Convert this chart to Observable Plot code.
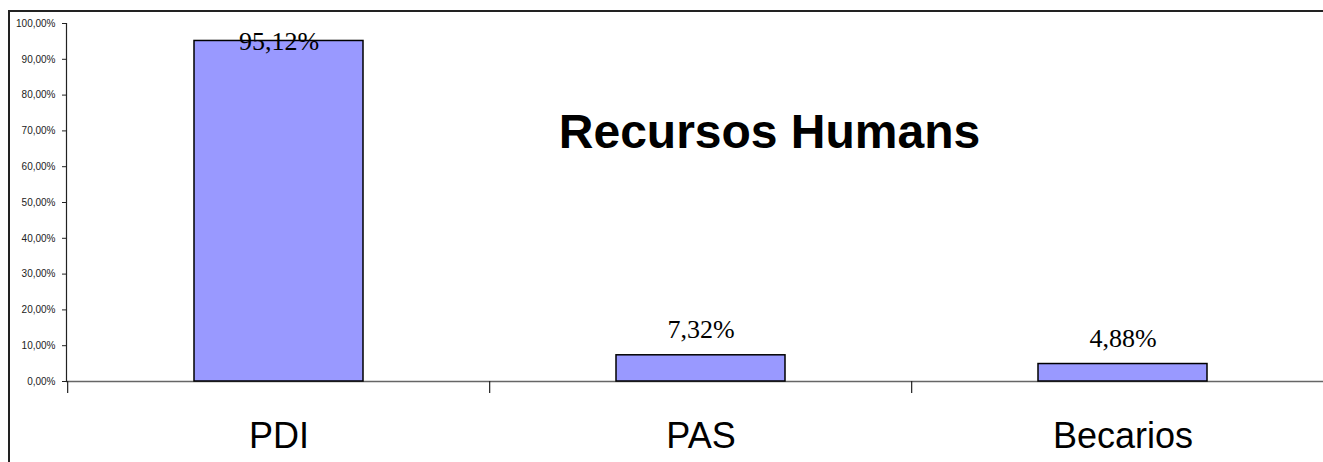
<!DOCTYPE html>
<html>
<head>
<meta charset="utf-8">
<script src="https://cdn.jsdelivr.net/npm/d3@7"></script>
<script src="https://cdn.jsdelivr.net/npm/@observablehq/plot@0.6"></script>
<style>
  html, body { margin: 0; padding: 0; background: #fff; }
  #wrap { position: relative; width: 1323px; height: 462px; overflow: hidden; }
  #border { position: absolute; left: 8px; top: 10px; right: -5px; bottom: -5px;
            border-top: 2px solid #222; border-left: 2px solid #222; pointer-events: none; }
  svg { display: block; }
</style>
</head>
<body>
<div id="wrap"><div id="border"></div></div>
<script>
const title = "Recursos Humans";
const categories = ["PDI", "PAS", "Becarios"];
const values = [0.9512, 0.0732, 0.0488];
const yTicks = [0, 0.1, 0.2, 0.3, 0.4, 0.5, 0.6, 0.7, 0.8, 0.9, 1.0];

const data = categories.map((c, i) => ({category: c, value: values[i]}));
const pct = (v, digits) => (v * 100).toFixed(digits).replace(".", ",") + "%";

const xOpts = {domain: categories, range: [66, 1334], paddingInner: 0.6, paddingOuter: 0.3};
const xs = Plot.scale({x: {type: "band", ...xOpts}});
const half = xs.step / 2;

// labels that fit above their bar vs. those pushed inside the plot top
const fits = data.filter(d => d.value <= 0.85);
const clipped = data.filter(d => d.value > 0.85);

const chart = Plot.plot({
  width: 1323,
  height: 462,
  marginTop: 23,
  marginBottom: 81,
  marginLeft: 66,
  marginRight: -11,
  style: {fontFamily: "'Liberation Sans', Arial, sans-serif", background: "transparent", overflow: "visible"},
  x: {type: "band", ...xOpts, axis: null, label: null},
  y: {domain: [0, 1], axis: null, label: null},
  marks: [
    Plot.ruleY([0], {stroke: "#666", strokeWidth: 1.5}),
    Plot.barY(data, {x: "category", y: "value", fill: "#9999FF", stroke: "#000", strokeWidth: 1.5}),
    Plot.frame({anchor: "left", stroke: "#222", strokeWidth: 1.2}),
    Plot.axisY({ticks: yTicks, tickSize: 4, tickPadding: 7, tickFormat: d => pct(d, 2), label: null,
                fontSize: 10, stroke: "#222", fill: "#222"}),
    Plot.axisX({tickSize: 12, tickFormat: () => "", label: null, dx: -half, stroke: "#222", strokeWidth: 1.2}),
    Plot.axisX({tickSize: 0, tickPadding: 41, fontSize: 36, label: null, fill: "#000"}),
    Plot.text(fits, {x: "category", y: "value", text: d => pct(d.value, 2), lineAnchor: "bottom", dy: -17,
                     fontFamily: "'Liberation Serif', 'Times New Roman', serif", fontSize: 26, fill: "#000"}),
    Plot.text(clipped, {x: "category", frameAnchor: "top", text: d => pct(d.value, 2), lineAnchor: "top", dy: 8,
                        fontFamily: "'Liberation Serif', 'Times New Roman', serif", fontSize: 26, fill: "#000"}),
    Plot.text([title], {frameAnchor: "top", text: d => d, dx: 69, dy: 90, lineAnchor: "top",
                        fontSize: 48, fontWeight: "bold", fill: "#000"})
  ]
});
document.getElementById("wrap").prepend(chart);
</script>
</body>
</html>
